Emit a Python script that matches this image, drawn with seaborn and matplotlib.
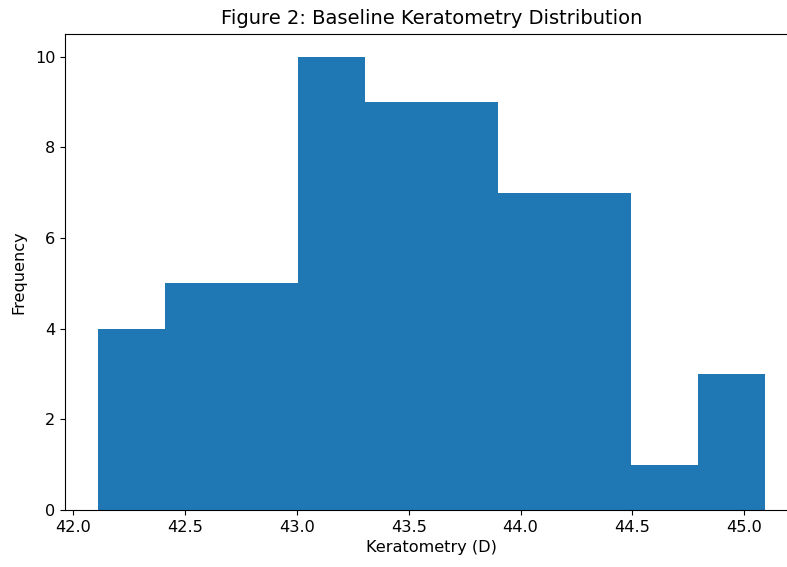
import numpy as np
import pandas as pd
import matplotlib
matplotlib.use("Agg")
import matplotlib.pyplot as plt
import seaborn as sns

# Data
bin_lo = 42.113
bin_hi = 45.091
n_bins = 10
counts = [4, 5, 5, 10, 9, 9, 7, 7, 1, 3]

edges = np.linspace(bin_lo, bin_hi, n_bins + 1)
centers = (edges[:-1] + edges[1:]) / 2
df = pd.DataFrame({"k": centers, "n": counts})

fig = plt.figure(figsize=(7.87, 5.67), dpi=100)
ax = fig.add_axes([65 / 787, (567 - 510) / 567, (798 - 65) / 787, (510 - 34) / 567])

sns.histplot(data=df, x="k", weights="n", bins=n_bins, binrange=(bin_lo, bin_hi),
             color="#1f77b4", alpha=1.0, linewidth=0, ax=ax)

ax.set_title("Figure 2: Baseline Keratometry Distribution", fontsize=14, pad=7)
ax.set_xlabel("Keratometry (D)", fontsize=11.6, labelpad=4)
ax.set_ylabel("Frequency", fontsize=11.6, labelpad=6)
ax.tick_params(labelsize=11.6)
ax.set_xticks([42.0, 42.5, 43.0, 43.5, 44.0, 44.5, 45.0])
ax.set_yticks([0, 2, 4, 6, 8, 10])

fig.savefig("out.png", dpi=100)
